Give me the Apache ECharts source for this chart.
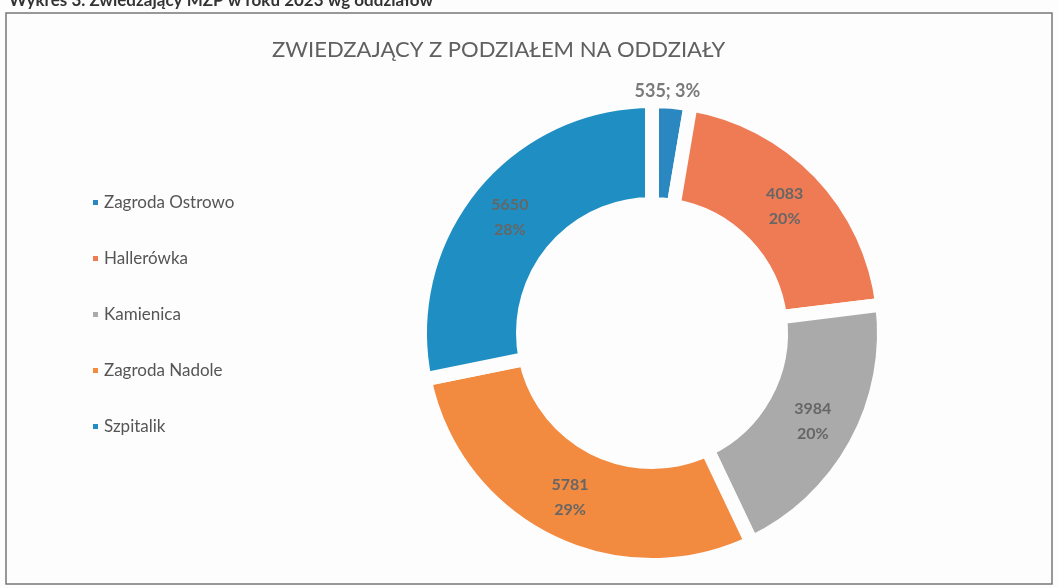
<!DOCTYPE html>
<html>
<head>
<meta charset="utf-8">
<script src="https://cdn.jsdelivr.net/npm/echarts@6/dist/echarts.min.js"></script>
<style>
  html, body { margin: 0; padding: 0; background: #fdfdfd; }
  #chart { width: 1058px; height: 588px; }
</style>
</head>
<body>
<div id="chart"></div>
<script>
// oddziały i liczba zwiedzających
const categories = ["Zagroda Ostrowo", "Hallerówka", "Kamienica", "Zagroda Nadole", "Szpitalik"];
const visitors = [535, 4083, 3984, 5781, 5650]; // Szpitalik nieczytelny w skanie - szacunek
const colors = ["#2b87bf", "#ee7b54", "#a9aaa9", "#f28a40", "#1f8fc3"];

const chart = echarts.init(document.getElementById("chart"));

const seriesData = categories.map((name, i) => {
  const item = { name: name, value: visitors[i], itemStyle: { color: colors[i] } };
  if (i === 0) {
    // mała wartość - etykieta nad pierścieniem
    item.label = { formatter: "{c}; {d}%", offset: [0, -59], color: "#7a7a7a", fontSize: 18 };
  }
  return item;
});

chart.setOption({
  backgroundColor: "#fdfdfd",
  textStyle: { fontFamily: "Lato" },
  title: [
    {
      text: "ZWIEDZAJĄCY Z PODZIAŁEM NA ODDZIAŁY",
      left: 267,
      top: 34,
      textStyle: { color: "#606060", fontSize: 22, fontWeight: "normal", fontFamily: "Lato" }
    },
    {
      text: "Wykres 3. Zwiedzający MZP w roku 2023 wg oddziałów",
      left: 4,
      top: -13,
      textStyle: { color: "#333", fontSize: 17, fontWeight: "bold", fontFamily: "Lato" }
    }
  ],
  legend: {
    orient: "vertical",
    left: 86,
    top: 189,
    itemGap: 39,
    icon: "rect",
    itemWidth: 7,
    itemHeight: 7,
    data: categories,
    textStyle: { color: "#555", fontSize: 17, fontFamily: "Lato" }
  },
  graphic: [
    {
      type: "rect",
      shape: { x: 6, y: 13, width: 1046, height: 571 },
      style: { fill: "none", stroke: "#777", lineWidth: 1.5 }
    }
  ],
  series: [
    {
      type: "pie",
      center: [652, 333],
      radius: [129, 232],
      startAngle: 90,
      clockwise: true,
      percentPrecision: 0,
      avoidLabelOverlap: false,
      itemStyle: { borderColor: "#fdfdfd", borderWidth: 14 },
      label: {
        show: true,
        position: "inside",
        formatter: "{c}\n{d}%",
        color: "#666",
        fontSize: 16,
        fontWeight: "bold",
        lineHeight: 25,
        fontFamily: "Lato"
      },
      labelLine: { show: false },
      emphasis: { disabled: true },
      data: seriesData
    }
  ]
});
</script>
</body>
</html>
